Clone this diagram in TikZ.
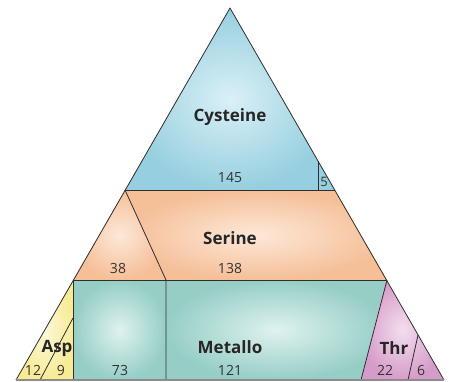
\documentclass[tikz,border=0pt]{standalone}
\usepackage{fontspec}
\setmainfont{Open Sans}
\definecolor{cysO}{HTML}{96CFDF}
\definecolor{cysI}{HTML}{DAF0F6}
\definecolor{serO}{HTML}{F5BF98}
\definecolor{serI}{HTML}{FDE8D8}
\definecolor{metO}{HTML}{96CEC6}
\definecolor{metI}{HTML}{DFF2EF}
\definecolor{aspO}{HTML}{F7EB96}
\definecolor{aspI}{HTML}{FCF8DA}
\definecolor{thrO}{HTML}{D69CC9}
\definecolor{thrI}{HTML}{F4DEEE}
\definecolor{edge}{HTML}{2E2E2E}
\begin{document}
\begin{tikzpicture}[x=1pt,y=-1pt,
  region/.style={shading=radial},
  border/.style={draw=edge,line width=0.8pt,line join=round},
  lbl/.style={font=\bfseries\fontsize{17}{17}\selectfont,text=black!85,inner sep=0pt},
  num/.style={font=\fontsize{14}{14}\selectfont,text=black!80,inner sep=0pt}]
\useasboundingbox (0,0) rectangle (449,382);
% Cysteine
\shade[region,inner color=cysI,outer color=cysO] (230,8) -- (335,190) -- (125,190) -- cycle;
% Serine
\shade[region,inner color=serI,outer color=serO] (125,190) -- (335,190) -- (387,280) -- (166,280) -- cycle;
\shade[region,inner color=serI,outer color=serO] (125,190) -- (166,280) -- (73,280) -- cycle;
% Metallo
\shade[region,inner color=metI,outer color=metO] (73,280) -- (166,280) -- (166,380) -- (73,380) -- cycle;
\shade[region,inner color=metI,outer color=metO] (166,280) -- (386,280) -- (361,380) -- (166,380) -- cycle;
% Asp
\shade[region,inner color=aspI,outer color=aspO] (73,280) -- (73,380) -- (16,380) -- cycle;
% Thr
\shade[region,inner color=thrI,outer color=thrO] (386,280) -- (444,380) -- (361,380) -- cycle;
% borders
\coordinate (apex) at (230,8);
\coordinate (bl) at (16,380);
\coordinate (br) at (444,380);
\coordinate (c1) at (125,190);
\coordinate (c2) at (335,190);
\coordinate (s1) at (73,280);
\coordinate (s2) at (387,280);
\coordinate (m1) at (166,280);
\coordinate (m2) at (166,380);
\coordinate (a1) at (73,380);
\coordinate (t1) at (361,380);
\draw[border] (bl) -- (apex) -- (br);
\draw[border] (c1) -- (c2);
\draw[border] (s1) -- (s2);
\draw[border] (c1) -- (m1) -- (m2);
\draw[border] (s1) -- (a1);
\draw[border] (s2) -- (t1);
\coordinate (k1) at (318,161);
\coordinate (k2) at (318,190);
\draw[border] (k1) -- (k2);
\coordinate (p1) at (73,318);
\coordinate (p2) at (40,380);
\draw[border] (p1) -- (p2);
\coordinate (q1) at (418,335);
\coordinate (q2) at (408,380);
\draw[border] (q1) -- (q2);
\draw[draw=black!45,line width=1.6pt] (bl) -- (br);
% labels
\node[lbl] (lcys) at (230,117) {Cysteine};
\node[num] (n145) at (230,178) {145};
\node[num,font=\fontsize{13}{13}\selectfont] (n5) at (324,182) {5};
\node[lbl] (lser) at (230,238) {Serine};
\node[num] (n38) at (118,268) {38};
\node[num] (n138) at (230,268) {138};
\node[lbl] (lasp) at (57,348) {Asp};
\node[num] (n12) at (33,370) {12};
\node[num] (n9) at (61,370) {9};
\node[num] (n73) at (120,370) {73};
\node[lbl] (lmet) at (230,347) {Metallo};
\node[num] (n121) at (230,370) {121};
\node[lbl] (lthr) at (394,348) {Thr};
\node[num] (n22) at (385,370) {22};
\node[num] (n6) at (421,370) {6};
\end{tikzpicture}
\end{document}
